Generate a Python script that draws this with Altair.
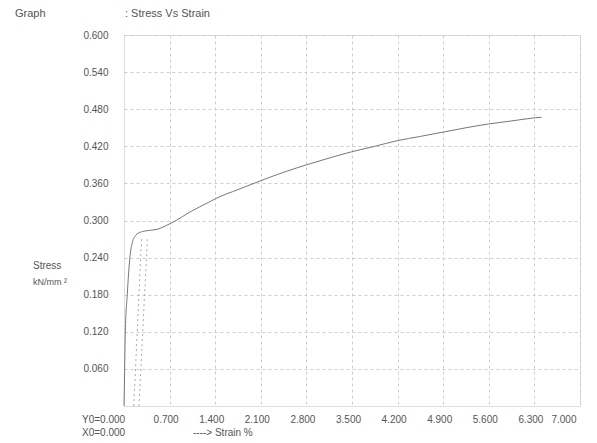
import altair as alt
import pandas as pd

# Stress-strain curve (strain %, stress kN/mm^2)
strain = [0.0, 0.01, 0.02, 0.05, 0.09, 0.13, 0.18, 0.25, 0.39, 0.52, 0.65, 0.80, 1.00,
          1.31, 1.40, 1.75, 2.09, 2.45, 2.80, 3.15, 3.49, 3.85, 4.19, 4.55, 4.90,
          5.25, 5.59, 5.95, 6.30, 6.41]
stress = [0.000, 0.060, 0.120, 0.180, 0.240, 0.265, 0.276, 0.281, 0.284, 0.286, 0.292,
          0.300, 0.313, 0.330, 0.335, 0.350, 0.364, 0.378, 0.390, 0.401, 0.411, 0.420,
          0.429, 0.436, 0.443, 0.450, 0.456, 0.461, 0.466, 0.467]

# dotted offset lines near the yield point
offset_id = ["a", "a", "b", "b"]
offset_strain = [0.15, 0.27, 0.23, 0.36]
offset_stress = [0.0, 0.272, 0.0, 0.272]

x_ticks = [0.7, 1.4, 2.1, 2.8, 3.5, 4.2, 4.9, 5.6, 6.3, 7.0]
y_ticks = [0.06, 0.12, 0.18, 0.24, 0.30, 0.36, 0.42, 0.48, 0.54, 0.60]

curve_df = pd.DataFrame({"strain": strain, "stress": stress})
off_df = pd.DataFrame({"id": offset_id, "strain": offset_strain, "stress": offset_stress})

FONT = "Liberation Sans"
GRAY = "#555555"

xscale = alt.Scale(domain=[0, 7], nice=False, zero=True)
yscale = alt.Scale(domain=[0, 0.6], nice=False, zero=True)

xaxis = alt.Axis(values=x_ticks, format=".3f", title=None, grid=True, gridDash=[3, 3],
                 gridColor="#cccccc", ticks=False, domain=False, labelFont=FONT,
                 labelFontSize=10, labelColor=GRAY, labelPadding=8, labelOffset=-4)
yaxis = alt.Axis(values=y_ticks, format=".3f", title=None, grid=True, gridDash=[3, 3],
                 gridColor="#cccccc", ticks=False, domain=False, labelFont=FONT,
                 labelFontSize=10, labelColor=GRAY, labelPadding=16)

curve = alt.Chart(curve_df).mark_line(color="#777777", strokeWidth=1, interpolate="monotone").encode(
    x=alt.X("strain:Q", scale=xscale, axis=xaxis),
    y=alt.Y("stress:Q", scale=yscale, axis=yaxis),
)

offsets = alt.Chart(off_df).mark_line(color="#aaaaaa", strokeWidth=1, strokeDash=[2, 3]).encode(
    x=alt.X("strain:Q", scale=xscale),
    y=alt.Y("stress:Q", scale=yscale),
    detail="id:N",
)

texts_df = pd.DataFrame({
    "label": ["Graph", ": Stress Vs Strain", "Stress", "kN/mm ²", "Y0=0.000", "X0=0.000", "----> Strain  %"],
    "px": [-109, 1, -91, -91, -42, -42, 69],
    "py": [-21, -21, 231, 247, 385, 398, 398],
})

def label(i, size):
    row = texts_df.iloc[i]
    return alt.Chart(texts_df.iloc[[i]]).mark_text(
        align="left", baseline="middle", font=FONT, fontSize=size, color=GRAY
    ).encode(text="label:N", x=alt.value(float(row.px)), y=alt.value(float(row.py)))

labels = [label(0, 11), label(1, 11), label(2, 10), label(3, 9), label(4, 10), label(5, 10), label(6, 10)]

chart = alt.layer(offsets, curve, *labels).properties(
    width=456, height=371,
    padding={"left": 116, "top": 27, "right": 5, "bottom": 33},
    autosize="none",
).configure_view(stroke="#999999", strokeWidth=1).configure(background="white")

chart.save("out.html", embed_options={"renderer": "svg", "actions": False})
